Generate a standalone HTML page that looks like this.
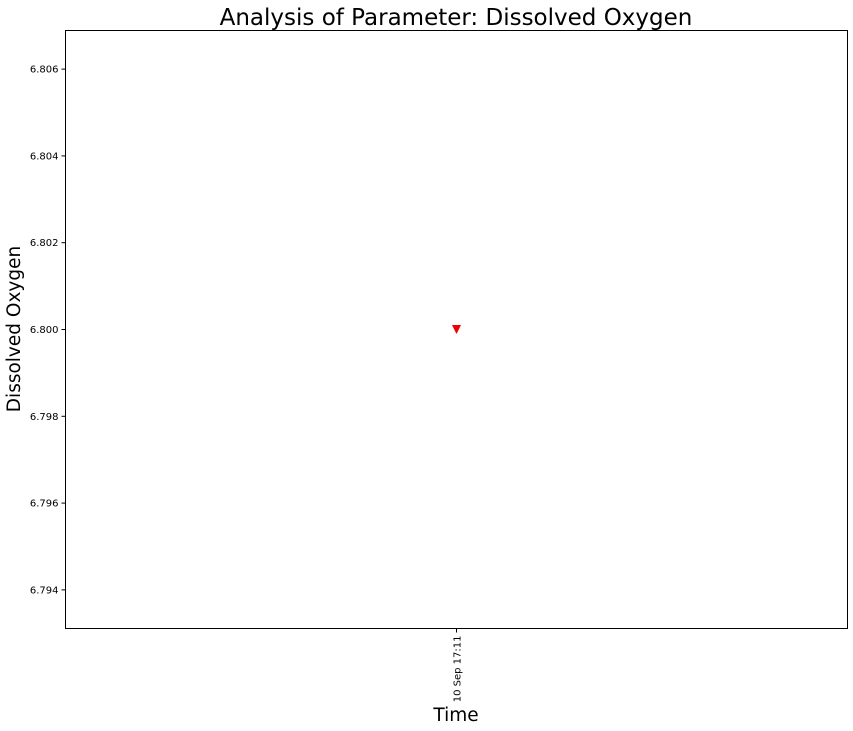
<!DOCTYPE html>
<html><head><meta charset="utf-8"><style>
body{margin:0;background:#fff;}
svg{display:block;font-family:"DejaVu Sans","Liberation Sans",sans-serif;}
</style></head><body>
<svg id="chart" width="853" height="731">
<rect x="0" y="0" width="853" height="731" fill="#fff"/>
<text x="456" y="25" text-anchor="middle" font-size="23">Analysis of Parameter: Dissolved Oxygen</text>
<text x="456" y="721" text-anchor="middle" font-size="18.5">Time</text>
<text transform="translate(20,329) rotate(-90)" text-anchor="middle" font-size="18.5">Dissolved Oxygen</text>
<g id="yticks"></g><g id="xticks"></g><g id="marks"></g>
<rect x="65.5" y="30.5" width="782" height="598" fill="none" stroke="#000" stroke-width="1"/>
</svg>
<script>
const categories = ["10 Sep 17:11"];
const values = [6.800];
const yTicks = [6.794, 6.796, 6.798, 6.800, 6.802, 6.804, 6.806];
const yMin = 6.79311, yMax = 6.80689;
const L=65.5,R=847.5,T=30.5,B=628.5;
const ns="http://www.w3.org/2000/svg";
function y(v){return B-(v-yMin)/(yMax-yMin)*(B-T);}
function x(i){return L+(R-L)*(i+0.5)/categories.length;}
const yg=document.getElementById('yticks');
yTicks.forEach(t=>{
  const ln=document.createElementNS(ns,'line');
  ln.setAttribute('x1',L-4);ln.setAttribute('x2',L);ln.setAttribute('y1',y(t));ln.setAttribute('y2',y(t));ln.setAttribute('stroke','#000');
  
  
  yg.appendChild(ln);
  const tx=document.createElementNS(ns,'text');
  tx.setAttribute('x',L-7);tx.setAttribute('y',y(t)+3.5);tx.setAttribute('text-anchor','end');tx.setAttribute('font-size','10');
  tx.textContent=t.toFixed(3);
  
  
  yg.appendChild(tx);
});
const xg=document.getElementById('xticks');
categories.forEach((c,i)=>{
  const ln=document.createElementNS(ns,'line');
  ln.setAttribute('x1',x(i));ln.setAttribute('x2',x(i));ln.setAttribute('y1',B);ln.setAttribute('y2',B+4);ln.setAttribute('stroke','#000');
  
  
  xg.appendChild(ln);
  const tx=document.createElementNS(ns,'text');
  tx.setAttribute('transform','translate('+(x(i)+4)+','+(B+7)+') rotate(-90)');
  tx.setAttribute('text-anchor','end');tx.setAttribute('font-size','10');
  tx.textContent=c;
  
  
  xg.appendChild(tx);
});
const mg=document.getElementById('marks');
values.forEach((v,i)=>{
  const cx=x(i),cy=y(v);
  const p=document.createElementNS(ns,'polygon');
  p.setAttribute('points',(cx-4.5)+','+(cy-4.5)+' '+(cx+4.5)+','+(cy-4.5)+' '+cx+','+(cy+4.5));
  p.setAttribute('fill','#e00');
  
  
  mg.appendChild(p);
});
</script>
</body></html>
